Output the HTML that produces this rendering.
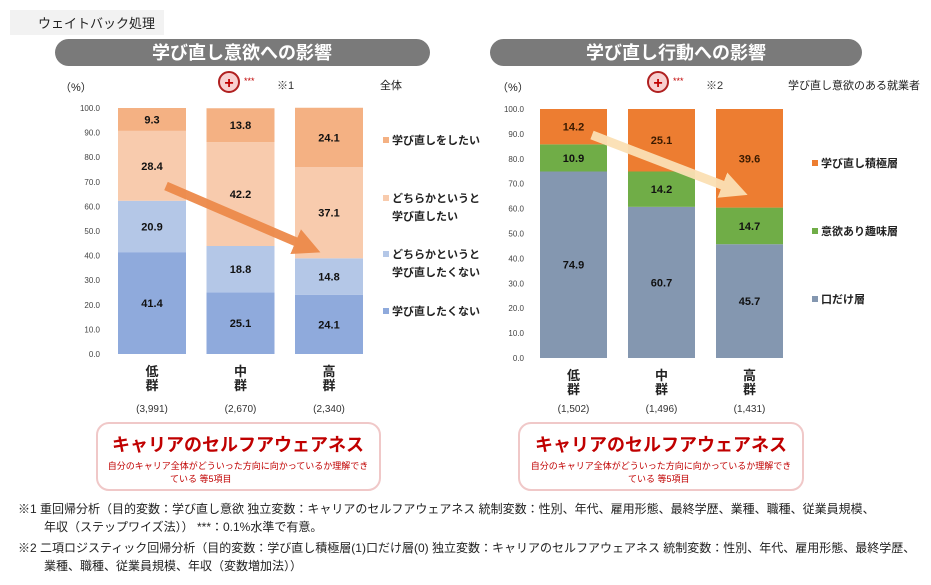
<!DOCTYPE html>
<html><head><meta charset="utf-8"><style>
body{margin:0;background:#fff;width:931px;height:580px;overflow:hidden;font-family:"Liberation Sans","Noto Sans CJK JP",sans-serif;}
svg text{font-family:"Liberation Sans","Noto Sans CJK JP",sans-serif;}
</style></head><body>
<svg id="s" width="931" height="580" xmlns="http://www.w3.org/2000/svg">
<defs>
<marker id="ah1" markerWidth="3" markerHeight="3" refX="1.5" refY="1.5" orient="auto"><path d="M0,0 L3,1.5 L0,3z" fill="#ed8a4a"/></marker>
<marker id="ah2" markerWidth="3" markerHeight="3" refX="1.5" refY="1.5" orient="auto"><path d="M0,0 L3,1.5 L0,3z" fill="#fbe0b4"/></marker>
</defs>
<rect x="10" y="10" width="154" height="25" fill="#f2f2f2"/>
<text x="38" y="28" font-size="13" fill="#222">ウェイトバック処理</text>
<rect x="55" y="39" width="375" height="27" rx="13.5" fill="#7a7a7a"/>
<text x="242" y="59" font-size="18" font-weight="bold" fill="#fff" text-anchor="middle">学び直し意欲への影響</text>
<rect x="490" y="39" width="372" height="27" rx="13.5" fill="#7a7a7a"/>
<text x="676" y="59" font-size="18" font-weight="bold" fill="#fff" text-anchor="middle">学び直し行動への影響</text>
<g id="L"></g><g id="R"></g>
<rect x="97" y="423" width="283" height="67" rx="12" fill="#fff" stroke="#f0c8c8" stroke-width="2"/>
<text x="238" y="451" font-size="18" font-weight="bold" fill="#c00000" text-anchor="middle">キャリアのセルフアウェアネス</text>
<text x="238" y="469" font-size="9" fill="#c00000" text-anchor="middle">自分のキャリア全体がどういった方向に向かっているか理解でき</text>
<text x="170" y="482" font-size="9" fill="#c00000">ている 等5項目</text>
<rect x="519" y="423" width="284" height="67" rx="12" fill="#fff" stroke="#f0c8c8" stroke-width="2"/>
<text x="661" y="451" font-size="18" font-weight="bold" fill="#c00000" text-anchor="middle">キャリアのセルフアウェアネス</text>
<text x="661" y="469" font-size="9" fill="#c00000" text-anchor="middle">自分のキャリア全体がどういった方向に向かっているか理解でき</text>
<text x="628" y="482" font-size="9" fill="#c00000">ている 等5項目</text>
<g font-size="12" fill="#222">
<text x="18" y="513">※1 重回帰分析（目的変数：学び直し意欲 独立変数：キャリアのセルフアウェアネス 統制変数：性別、年代、雇用形態、最終学歴、業種、職種、従業員規模、</text>
<text x="44" y="531">年収（ステップワイズ法）） ***：0.1%水準で有意。</text>
<text x="18" y="552">※2 二項ロジスティック回帰分析（目的変数：学び直し積極層(1)口だけ層(0) 独立変数：キャリアのセルフアウェアネス 統制変数：性別、年代、雇用形態、最終学歴、</text>
<text x="44" y="570">業種、職種、従業員規模、年収（変数増加法））</text>
</g>
</svg>
<script>
const catsL=["低群","中群","高群"];
const countsL=["(3,991)","(2,670)","(2,340)"];
const serL1=[41.4,25.1,24.1];
const serL2=[20.9,18.8,14.8];
const serL3=[28.4,42.2,37.1];
const serL4=[9.3,13.8,24.1];
const catsR=["低群","中群","高群"];
const countsR=["(1,502)","(1,496)","(1,431)"];
const serR1=[74.9,60.7,45.7];
const serR2=[10.9,14.2,14.7];
const serR3=[14.2,25.1,39.6];
const ticks=[0,10,20,30,40,50,60,70,80,90,100];
const NS="http://www.w3.org/2000/svg";
function el(p,t,a,txt){const e=document.createElementNS(NS,t);for(const k in a)e.setAttribute(k,a[k]);if(txt!==undefined)e.textContent=txt;p.appendChild(e);return e;}
function chart(g,cfg){
  const y=v=>cfg.y0-(cfg.y0-cfg.y100)*v/100;
  const x=i=>cfg.x0+i*cfg.step;
  ticks.forEach(t=>{const e=el(g,'text',{x:cfg.tx,y:y(t)+3,'font-size':8,fill:'#444','text-anchor':'end'},t.toFixed(1));
    
    });
  cfg.cats.forEach((c,i)=>{
    let base=0;
    cfg.series.forEach((s,j)=>{
      const v=s[i];
      const r=el(g,'rect',{x:x(i),y:y(base+v),width:cfg.bw,height:y(base)-y(base+v),fill:cfg.colors[j]});
      
      
      const t=el(g,'text',{x:x(i)+cfg.bw/2,y:y(base+v/2)+4,'font-size':11,'font-weight':'bold',fill:cfg.tcol[j],'text-anchor':'middle'},v.toFixed(1));
      
      
      base+=v;
    });
    const cx=x(i)+cfg.bw/2;
    const a=el(g,'text',{x:cx,y:cfg.y0+22,'font-size':13,'font-weight':'bold',fill:'#222','text-anchor':'middle'},c[0]);
    
    
    const b=el(g,'text',{x:cx,y:cfg.y0+36,'font-size':13,'font-weight':'bold',fill:'#222','text-anchor':'middle'},c[1]);
    
    
    const n=el(g,'text',{x:cx,y:cfg.cy,'font-size':10,fill:'#333','text-anchor':'middle'},cfg.counts[i]);
    
    
  });
  const a=el(g,'line',{x1:cfg.arrow[0],y1:cfg.arrow[1],x2:cfg.arrow[2],y2:cfg.arrow[3],stroke:cfg.acol,'stroke-width':9,'marker-end':cfg.am,opacity:0.95});
  
  
  el(g,'text',{x:cfg.px,y:91,'font-size':11,fill:'#222'},'（%）');
  const c=el(g,'circle',{cx:cfg.cx,cy:82,r:10,fill:'#f8d0d0',stroke:'#b02020','stroke-width':2});
  
  
  el(g,'text',{x:cfg.cx,y:88,'font-size':16,'font-weight':'bold',fill:'#c00000','text-anchor':'middle'},'+');
  el(g,'text',{x:cfg.cx+15,y:84,'font-size':9,fill:'#c00000'},'***');
  el(g,'text',{x:cfg.cx+48,y:89,'font-size':11,fill:'#333'},cfg.note);
  el(g,'text',{x:cfg.gx,y:89,'font-size':11,fill:'#222'},cfg.group);
  cfg.legend.forEach((L,k)=>{
    const r=el(g,'rect',{x:cfg.lx,y:L[0]-7,width:6,height:6,fill:cfg.colors[L[2]]});
    
    
    L[1].forEach((s,m)=>{const t=el(g,'text',{x:cfg.lx+9,y:L[0]+m*18,'font-size':11,'font-weight':'bold',fill:'#222'},s);
      
      });
  });
}
chart(document.getElementById('L'),{y0:354,y100:108,x0:118,step:88.5,bw:68,tx:100,cats:catsL,counts:countsL,cy:412,
  series:[serL1,serL2,serL3,serL4],colors:['#8faadc','#b4c7e7','#f8cbad','#f4b183'],tcol:['#111','#111','#111','#111'],
  arrow:[166,186,308,247],acol:'#ed8a4a',am:'url(#ah1)',px:60,cx:229,note:'※1',gx:380,group:'全体',lx:383,
  legend:[[144,['学び直しをしたい'],3],[202,['どちらかというと','学び直したい'],2],[258,['どちらかというと','学び直したくない'],1],[315,['学び直したくない'],0]]});
chart(document.getElementById('R'),{y0:358,y100:109,x0:540,step:88,bw:67,tx:524,cats:catsR,counts:countsR,cy:412,
  series:[serR1,serR2,serR3],colors:['#8497b0','#70ad47','#ed7d31'],tcol:['#111','#111','#3a1a00'],
  arrow:[592,135,735,190],acol:'#fbe0b4',am:'url(#ah2)',px:497,cx:658,note:'※2',gx:788,group:'学び直し意欲のある就業者',lx:812,
  legend:[[167,['学び直し積極層'],2],[235,['意欲あり趣味層'],1],[303,['口だけ層'],0]]});
</script>
</body></html>
